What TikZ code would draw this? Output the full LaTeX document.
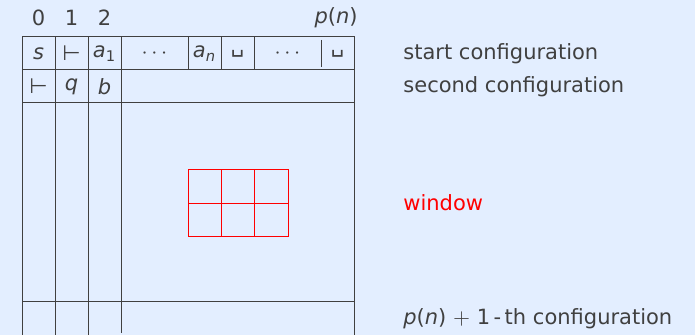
\documentclass[tikz,border=0pt]{standalone}
\usepackage{fontspec}
\setmainfont{DejaVu Sans}
\usetikzlibrary{positioning}
\definecolor{bg}{HTML}{E3EEFF}
\definecolor{fg}{HTML}{404040}

\begin{document}
\begin{tikzpicture}[x=0.5pt, y=-0.5pt, font=\fontsize{10.5}{12}\selectfont, text=fg,
    cell/.style={inner sep=0pt, anchor=center},
    gridline/.style={draw=fg, line width=0.5pt},
    win/.style={draw=red, line width=0.5pt},
    conf/.style={anchor=west, inner sep=0pt}]

    \useasboundingbox[fill=bg] (0,0) rectangle (695,335);

    % tableau
    \draw[gridline] (22,37) rectangle (354,103);
    \draw[gridline] (22,70) -- (354,70);
    \draw[gridline] (22,302) -- (354,302);
    \foreach \x in {22,55,88,354}
        \draw[gridline] (\x,37) -- (\x,335);
    \draw[gridline] (121,37) -- (121,333);
    \foreach \x in {188,221,254}
        \draw[gridline] (\x,37) -- (\x,70);
    \draw[gridline] (321,40) -- (321,67);

    % window
    \draw[win] (188,170) rectangle (288,236.7);
    \draw[win] (188,203.3) -- (288,203.3);
    \foreach \x in {221.3,254.7}
        \draw[win] (\x,170) -- (\x,236.7);

    % column numbers
    \node[cell] (c0) at (38.5,18) {0};
    \node[cell] (c1) at (71.5,18) {1};
    \node[cell] (c2) at (104.5,18) {2};
    \node[cell, anchor=east] (cp) at (358,18) {\textit{p}(\textit{n})};

    % first row
    \node[cell] (s)  at (38.5,53.5)  {\textit{s}};
    \node[cell] (l1) at (71.5,53.5)  {⊢};
    \node[cell] (a1) at (104.5,53.5) {\textit{a}\textsubscript{1}};
    \node[cell] (d1) at (154.5,53.5) {$\cdots$};
    \node[cell] (an) at (204.5,53.5) {\textit{a}\textsubscript{\textit{n}}};
    \node[cell] (b1) at (237.5,53.5) {␣};
    \node[cell] (d2) at (287.5,53.5) {$\cdots$};
    \node[cell] (b2) at (337.5,53.5) {␣};

    % second row
    \node[cell] (l2) at (38.5,86.5)  {⊢};
    \node[cell] (q)  at (71.5,86.5)  {\textit{q}};
    \node[cell] (b)  at (104.5,86.5) {\textit{b}};

    % labels
    \node[conf] (start)  at (403,53.5) {start configuration};
    \node[conf] (second) at (403,86.5) {second configuration};
    \node[conf, text=red] (window) at (403,203) {window};
    \node[conf] (last) at (403,318.5) {\textit{p}(\textit{n}) $+$ 1\,-\,th configuration};

\end{tikzpicture}
\end{document}
